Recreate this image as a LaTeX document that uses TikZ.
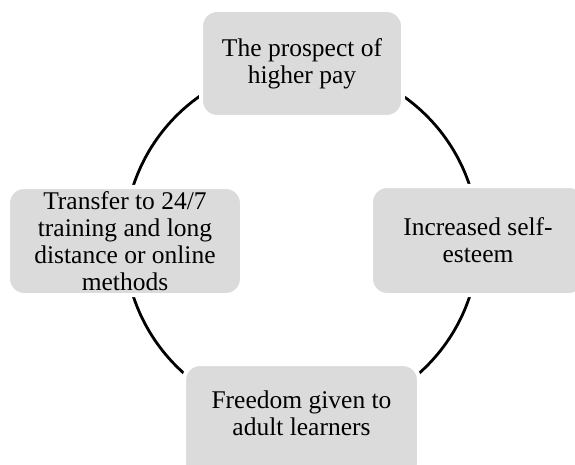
\documentclass[tikz,border=0pt]{standalone}
\usepackage{fontspec}
\setmainfont{Liberation Serif}
\definecolor{boxgray}{RGB}{219,219,219}
\begin{document}
\begin{tikzpicture}[x=1pt,y=-1pt,
  cyclebox/.style={rectangle, rounded corners=16pt, fill=boxgray, draw=white,
    line width=4pt, inner sep=0pt, align=center,
    font=\fontsize{25.5}{27}\selectfont},
  ring/.style={line width=2.8pt, black}]
\useasboundingbox (0,0) rectangle (575,465);
\coordinate (c) at (301.5,241);
\draw[ring] (c) circle (177pt);
\node[cyclebox, minimum width=202pt, minimum height=107pt] (top) at (302,63.5) {The prospect of\\higher pay};
\node[cyclebox, minimum width=214pt, minimum height=109pt] (right) at (478,240.5) {Increased self-\\esteem};
\node[cyclebox, minimum width=235pt, minimum height=116pt] (bottom) at (301.5,422) {Freedom given to\\adult learners\\[-9pt]\mbox{}};
\node[cyclebox, minimum width=234pt, minimum height=108pt] (left) at (125,241) {Transfer to 24/7\\training and long\\distance or online\\methods};
\end{tikzpicture}
\end{document}
